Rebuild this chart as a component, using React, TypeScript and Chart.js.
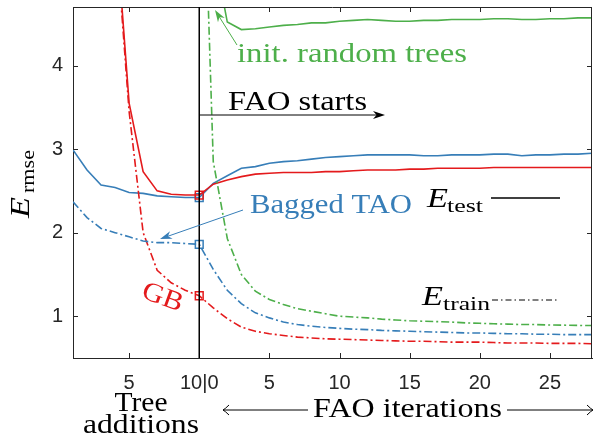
import React, { useEffect, useRef } from "react";
import { Chart, registerables } from "chart.js";

Chart.register(...registerables);

// ---------------- data ----------------
const treeAdditions = [1, 2, 3, 4, 5, 6, 7, 8, 9, 10];
const faoIterations = [
  0, 1, 2, 3, 4, 5, 6, 7, 8, 9, 10, 11, 12, 13, 14, 15, 16, 17, 18, 19, 20, 21,
  22, 23, 24, 25, 26, 27, 28,
];

// Bagged TAO (blue)
const bagTestTree = [2.99, 2.75, 2.57, 2.54, 2.48, 2.47, 2.44, 2.43, 2.42, 2.42];
const bagTestFao = [
  2.42, 2.59, 2.68, 2.77, 2.79, 2.83, 2.85, 2.86, 2.88, 2.9, 2.91, 2.92, 2.93,
  2.93, 2.93, 2.93, 2.92, 2.92, 2.93, 2.93, 2.93, 2.94, 2.94, 2.92, 2.93, 2.93,
  2.94, 2.94, 2.95,
];
const bagTrainTree = [2.37, 2.18, 2.05, 2.0, 1.95, 1.9, 1.88, 1.88, 1.87, 1.86];
const bagTrainFao = [
  1.86, 1.56, 1.31, 1.15, 1.04, 0.98, 0.93, 0.9, 0.88, 0.865, 0.855, 0.845,
  0.84, 0.83, 0.825, 0.82, 0.815, 0.81, 0.805, 0.8, 0.8, 0.795, 0.79, 0.79,
  0.785, 0.785, 0.78, 0.78, 0.78,
];

// Gradient boosting (red)
const gbTestTree = [14, 10.5, 8, 5.8, 3.55, 2.73, 2.5, 2.46, 2.45, 2.45];
const gbTestFao = [
  2.45, 2.58, 2.63, 2.67, 2.7, 2.71, 2.72, 2.72, 2.72, 2.73, 2.73, 2.74, 2.75,
  2.75, 2.75, 2.76, 2.76, 2.77, 2.77, 2.77, 2.77, 2.78, 2.78, 2.78, 2.78, 2.78,
  2.78, 2.78, 2.78,
];
const gbTrainTree = [13, 9.5, 7.5, 5.7, 3.45, 2.0, 1.55, 1.4, 1.31, 1.245];
const gbTrainFao = [
  1.245, 1.1, 0.97, 0.87, 0.82, 0.79, 0.77, 0.75, 0.74, 0.73, 0.725, 0.72,
  0.715, 0.71, 0.705, 0.7, 0.7, 0.695, 0.69, 0.69, 0.69, 0.685, 0.68, 0.68,
  0.68, 0.675, 0.675, 0.675, 0.67,
];

// init. random trees (green), FAO only
const rtTestFao = [
  9, 5.4, 4.52, 4.43, 4.44, 4.46, 4.48, 4.49, 4.51, 4.51, 4.53, 4.54, 4.55,
  4.54, 4.53, 4.53, 4.54, 4.54, 4.55, 4.55, 4.55, 4.56, 4.56, 4.55, 4.55, 4.56,
  4.56, 4.57, 4.57,
];
const rtTrainFao = [
  8.1, 2.85, 1.93, 1.5, 1.3, 1.2, 1.14, 1.09, 1.06, 1.03, 1.0, 0.99, 0.98,
  0.965, 0.955, 0.945, 0.94, 0.935, 0.93, 0.92, 0.915, 0.91, 0.905, 0.9, 0.9,
  0.895, 0.893, 0.89, 0.888,
];

const xTickValues = [5, 10, 15, 20, 25, 30, 35];
const xTickLabels = ["5", "10|0", "5", "10", "15", "20", "25"];
const yTickValues = [1, 2, 3, 4];
const yTickLabels = ["1", "2", "3", "4"];

// ---------------- styles ----------------
const BLUE = "#377EB8";
const RED = "#E41A1C";
const GREEN = "#4DAF4A";
const AXIS = "#262626";
const DASHDOT = [8, 3, 2, 3];
const SERIF = '"Liberation Serif", "Times New Roman", serif';
const SANS = '"Liberation Sans", Arial, Helvetica, sans-serif';

const lastTree = treeAdditions[treeAdditions.length - 1];

function joined(tree: number[], fao: number[]) {
  const pts = tree.map((v, i) => ({ x: treeAdditions[i], y: v }));
  fao.forEach((v, i) => {
    if (i > 0) pts.push({ x: lastTree + faoIterations[i], y: v });
  });
  return pts;
}
function faoOnly(fao: number[]) {
  return fao.map((v, i) => ({ x: lastTree + faoIterations[i], y: v }));
}

function fitText(
  ctx: CanvasRenderingContext2D,
  text: string,
  x: number,
  y: number,
  width: number,
  font: string,
  color: string,
  align: "left" | "center" = "left"
) {
  ctx.save();
  ctx.font = font;
  ctx.fillStyle = color;
  ctx.textBaseline = "alphabetic";
  ctx.textAlign = "left";
  const w = ctx.measureText(text).width;
  const sx = width / w;
  const left = align === "center" ? x - width / 2 : x;
  ctx.translate(left, y);
  ctx.scale(sx, 1);
  ctx.fillText(text, 0, 0);
  ctx.restore();
}

function filledArrow(
  ctx: CanvasRenderingContext2D,
  x1: number,
  y1: number,
  x2: number,
  y2: number,
  color: string,
  lw: number,
  headLen: number,
  headW: number
) {
  const a = Math.atan2(y2 - y1, x2 - x1);
  ctx.save();
  ctx.strokeStyle = color;
  ctx.fillStyle = color;
  ctx.lineWidth = lw;
  ctx.setLineDash([]);
  ctx.beginPath();
  ctx.moveTo(x1, y1);
  ctx.lineTo(x2 - Math.cos(a) * headLen * 0.6, y2 - Math.sin(a) * headLen * 0.6);
  ctx.stroke();
  ctx.translate(x2, y2);
  ctx.rotate(a);
  ctx.beginPath();
  ctx.moveTo(0, 0);
  ctx.lineTo(-headLen, -headW / 2);
  ctx.lineTo(-headLen * 0.7, 0);
  ctx.lineTo(-headLen, headW / 2);
  ctx.closePath();
  ctx.fill();
  ctx.restore();
}

function openArrow(
  ctx: CanvasRenderingContext2D,
  x1: number,
  y: number,
  x2: number,
  color: string
) {
  const dir = Math.sign(x2 - x1);
  ctx.save();
  ctx.strokeStyle = color;
  ctx.lineWidth = 1;
  ctx.beginPath();
  ctx.moveTo(x1, y);
  ctx.lineTo(x2, y);
  ctx.stroke();
  ctx.beginPath();
  ctx.moveTo(x2 - dir * 6, y - 5);
  ctx.quadraticCurveTo(x2 - dir * 2, y - 1, x2, y);
  ctx.quadraticCurveTo(x2 - dir * 2, y + 1, x2 - dir * 6, y + 5);
  ctx.stroke();
  ctx.restore();
}

const overlay = {
  id: "overlay",
  afterDatasetsDraw(chart: any) {
    const ctx: CanvasRenderingContext2D = chart.ctx;
    const { left, right, top, bottom } = chart.chartArea;
    const xs = chart.scales.x;
    const ys = chart.scales.y;

    ctx.save();
    // box top and right
    ctx.strokeStyle = AXIS;
    ctx.lineWidth = 1;
    ctx.beginPath();
    ctx.moveTo(left, top + 0.5);
    ctx.lineTo(right, top + 0.5);
    ctx.moveTo(right - 0.5, top);
    ctx.lineTo(right - 0.5, bottom);
    ctx.stroke();

    // inner ticks
    const tl = 5;
    ctx.beginPath();
    xTickValues.forEach((v) => {
      const px = Math.round(xs.getPixelForValue(v)) + 0.5;
      ctx.moveTo(px, bottom);
      ctx.lineTo(px, bottom - tl);
      ctx.moveTo(px, top);
      ctx.lineTo(px, top + tl);
    });
    yTickValues.forEach((v) => {
      const py = Math.round(ys.getPixelForValue(v)) + 0.5;
      ctx.moveTo(left, py);
      ctx.lineTo(left + tl, py);
      ctx.moveTo(right, py);
      ctx.lineTo(right - tl, py);
    });
    ctx.stroke();

    // vertical divider at end of tree additions
    const vx = xs.getPixelForValue(lastTree);
    ctx.strokeStyle = "#000";
    ctx.lineWidth = 1.5;
    ctx.beginPath();
    ctx.moveTo(vx, top);
    ctx.lineTo(vx, bottom);
    ctx.stroke();
    ctx.restore();

    // FAO starts
    filledArrow(ctx, vx, 115, 385, 115, "#000", 1, 12, 8);
    fitText(ctx, "FAO starts", 228, 110, 139, `27px ${SERIF}`, "#000");

    // init. random trees
    fitText(ctx, "init. random trees", 237, 62, 230, `27px ${SERIF}`, GREEN);
    filledArrow(ctx, 237, 45, 215, 10, GREEN, 1, 12, 8);

    // Bagged TAO
    fitText(ctx, "Bagged TAO", 250, 213, 162, `27px ${SERIF}`, BLUE);
    filledArrow(ctx, 243, 210, 160, 239, BLUE, 1, 12, 8);

    // GB rotated
    ctx.save();
    ctx.translate(163, 296);
    ctx.rotate((20 * Math.PI) / 180);
    fitText(ctx, "GB", 0, 9, 42, `27px ${SERIF}`, RED, "center");
    ctx.restore();

    // legend-like labels
    fitText(ctx, "E", 427, 207, 21, `italic 28px ${SERIF}`, "#000");
    fitText(ctx, "test", 447, 212, 36, `19px ${SERIF}`, "#000");
    ctx.save();
    ctx.strokeStyle = "#000";
    ctx.lineWidth = 1.5;
    ctx.beginPath();
    ctx.moveTo(491, 198);
    ctx.lineTo(560, 198);
    ctx.stroke();
    ctx.restore();

    fitText(ctx, "E", 422, 305, 21, `italic 28px ${SERIF}`, "#000");
    fitText(ctx, "train", 443, 310, 47, `19px ${SERIF}`, "#000");
    ctx.save();
    ctx.strokeStyle = "#000";
    ctx.lineWidth = 1.2;
    ctx.setLineDash([6, 3, 1.5, 3]);
    ctx.beginPath();
    ctx.moveTo(492, 300);
    ctx.lineTo(557, 300);
    ctx.stroke();
    ctx.restore();

    // y axis label
    ctx.save();
    ctx.translate(29, 218);
    ctx.rotate(-Math.PI / 2);
    fitText(ctx, "E", 0, 0, 21, `italic 28px ${SERIF}`, "#000");
    fitText(ctx, "rmse", 25, 5, 43, `19px ${SERIF}`, "#000");
    ctx.restore();

    // x axis captions
    fitText(ctx, "Tree", 141, 411, 53, `27px ${SERIF}`, "#000", "center");
    fitText(ctx, "additions", 141, 433, 116, `27px ${SERIF}`, "#000", "center");
    fitText(ctx, "FAO iterations", 313, 417, 189, `27px ${SERIF}`, "#000");
    openArrow(ctx, 308, 410, 223, "#000");
    openArrow(ctx, 507, 410, 593, "#000");
  },
};

export default function App() {
  const ref = useRef<HTMLCanvasElement | null>(null);

  useEffect(() => {
    document.body.style.margin = "0";
    const canvas = ref.current;
    if (!canvas) return;

    const markerRadius = (c: any) =>
      c.dataIndex === treeAdditions.length - 1 ? 5.5 : 0;

    const line = (
      data: { x: number; y: number }[],
      color: string,
      dashed: boolean,
      marker: boolean
    ) => ({
      data,
      borderColor: color,
      backgroundColor: color,
      borderWidth: 1.6,
      borderDash: dashed ? DASHDOT : [],
      tension: 0,
      fill: false,
      pointStyle: "rect" as const,
      pointRadius: marker ? markerRadius : 0,
      pointBorderColor: color,
      pointBackgroundColor: "rgba(0,0,0,0)",
      pointBorderWidth: 1.5,
    });

    const noPad = (s: any) => {
      s.paddingTop = 0;
      s.paddingBottom = 0;
      s.paddingLeft = 0;
      s.paddingRight = 0;
    };

    const chart = new Chart(canvas, {
      type: "line",
      data: {
        datasets: [
          line(faoOnly(rtTrainFao), GREEN, true, false),
          line(faoOnly(rtTestFao), GREEN, false, false),
          line(joined(bagTrainTree, bagTrainFao), BLUE, true, true),
          line(joined(gbTrainTree, gbTrainFao), RED, true, true),
          line(joined(gbTestTree, gbTestFao), RED, false, true),
          line(joined(bagTestTree, bagTestFao), BLUE, false, true),
        ] as any,
      },
      options: {
        responsive: false,
        animation: false,
        events: [],
        layout: { padding: { left: 0, top: 7, right: 3, bottom: 0 } },
        plugins: {
          legend: { display: false },
          tooltip: { enabled: false },
          title: { display: false },
        },
        scales: {
          x: {
            type: "linear",
            min: 1,
            max: 38,
            grid: { display: false, drawTicks: false },
            border: { display: true, color: AXIS, width: 1 },
            afterBuildTicks: (s: any) => {
              s.ticks = xTickValues.map((v) => ({ value: v }));
            },
            afterFit: (s: any) => {
              s.height = 80;
              noPad(s);
            },
            ticks: {
              autoSkip: false,
              maxRotation: 0,
              padding: 13,
              color: AXIS,
              font: { family: SANS, size: 20 },
              callback: (v: any) => {
                const i = xTickValues.indexOf(Number(v));
                return i >= 0 ? xTickLabels[i] : "";
              },
            },
          },
          y: {
            type: "linear",
            min: 0.5,
            max: 4.7,
            grid: { display: false, drawTicks: false },
            border: { display: true, color: AXIS, width: 1 },
            afterBuildTicks: (s: any) => {
              s.ticks = yTickValues.map((v) => ({ value: v }));
            },
            afterFit: (s: any) => {
              s.width = 73;
              noPad(s);
            },
            ticks: {
              autoSkip: false,
              padding: 10,
              color: AXIS,
              font: { family: SANS, size: 20 },
              callback: (v: any) => {
                const i = yTickValues.indexOf(Number(v));
                return i >= 0 ? yTickLabels[i] : "";
              },
            },
          },
        },
      },
      plugins: [overlay],
    });

    return () => chart.destroy();
  }, []);

  return (
    <div style={{ position: "fixed", left: 0, top: 0, width: 595, height: 438, background: "#fff" }}>
      <canvas ref={ref} width={595} height={438} style={{ display: "block" }} />
    </div>
  );
}
